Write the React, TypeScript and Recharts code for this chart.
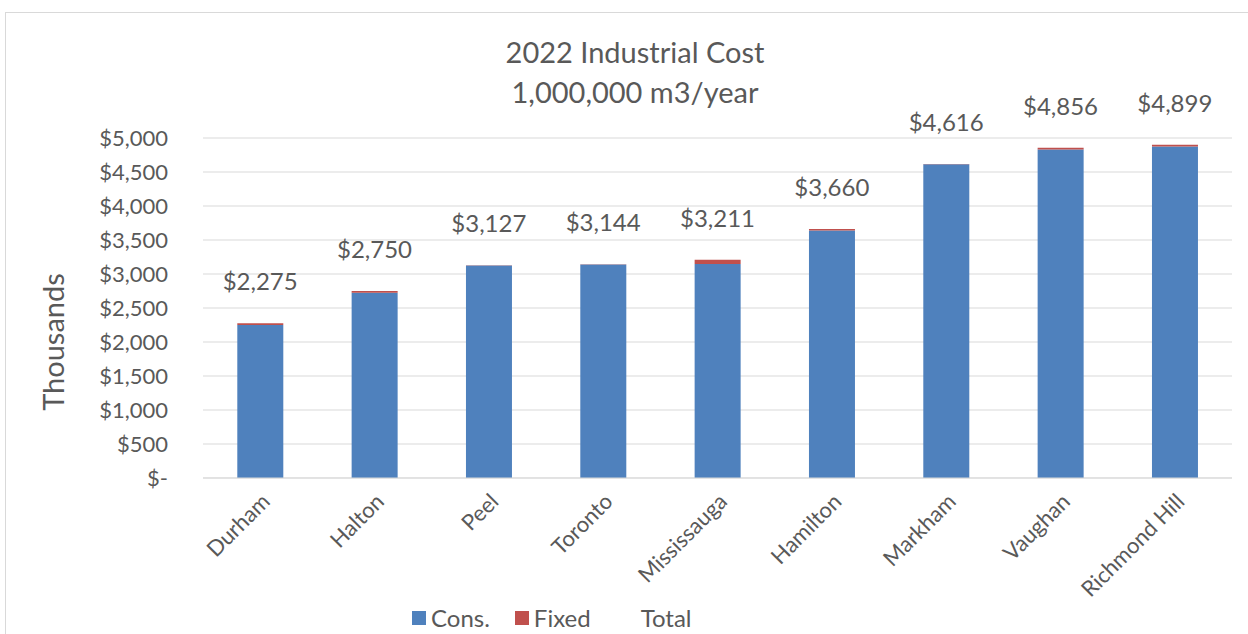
import { ComposedChart, Bar, Line, XAxis, YAxis, CartesianGrid, Legend, LabelList } from 'recharts';

const cities = ['Durham', 'Halton', 'Peel', 'Toronto', 'Mississauga', 'Hamilton', 'Markham', 'Vaughan', 'Richmond Hill'];
const totals = [2275, 2750, 3127, 3144, 3211, 3660, 4616, 4856, 4899];
const fixedCost = [25, 25, 3, 3, 65, 20, 3, 25, 25];
const yTicks = [0, 500, 1000, 1500, 2000, 2500, 3000, 3500, 4000, 4500, 5000];

const data = cities.map((name, i) => ({
  name,
  cons: totals[i] - fixedCost[i],
  fixed: fixedCost[i],
  total: totals[i],
}));

const FONT = 'Lato, "Noto Sans", sans-serif';
const TEXT = '#595959';

const money = (v: number) => (v === 0 ? '$-' : '$' + v.toLocaleString('en-US'));

function LegendBox() {
  const item = { display: 'flex', alignItems: 'center' } as const;
  const sq = (c: string) => ({ width: 14, height: 14, background: c, marginRight: 5 });
  return (
    <div style={{ display: 'flex', fontFamily: FONT, fontSize: 24, color: TEXT, lineHeight: '28px' }}>
      <div style={{ ...item, marginRight: 25 }}><div style={sq('#4F81BD')} />Cons.</div>
      <div style={{ ...item, marginRight: 50 }}><div style={sq('#C0504D')} />Fixed</div>
      <div style={item}>Total</div>
    </div>
  );
}

export default function App() {
  return (
    <div style={{ position: 'absolute', left: 0, top: 0, width: 1248, height: 634, overflow: 'hidden', background: '#fff' }}>
      <div style={{ position: 'absolute', left: 5, top: 12, width: 1260, height: 640, border: '1px solid #d9d9d9' }} />
      <div style={{ position: 'absolute', left: 0, width: 1270, top: 32, textAlign: 'center', fontFamily: FONT, fontSize: 29, color: TEXT, lineHeight: '40px' }}>
        <div>2022 Industrial Cost</div>
        <div>1,000,000 m3/year</div>
      </div>
      <ComposedChart
        width={1248}
        height={634}
        data={data}
        margin={{ top: 138, right: 16, left: 0, bottom: 0 }}
        barCategoryGap="30%"
        style={{ position: 'absolute', left: 0, top: 0 }}
      >
        <CartesianGrid vertical={false} stroke="#d9d9d9" />
        <XAxis
          dataKey="name"
          interval={0}
          height={156}
          angle={-45}
          textAnchor="end"
          tickSize={0}
          tickMargin={14}
          tickLine={false}
          axisLine={{ stroke: '#d9d9d9' }}
          tick={{ fill: TEXT, fontSize: 22, fontFamily: FONT }}
        />
        <YAxis
          width={203}
          domain={[0, 5000]}
          ticks={yTicks}
          tickFormatter={money}
          axisLine={false}
          tickLine={false}
          tickSize={0}
          tickMargin={35}
          tick={{ fill: TEXT, fontSize: 22, fontFamily: FONT }}
          label={{
            content: ({ viewBox }: any) => {
              const x = viewBox.x + 52;
              const y = viewBox.y + viewBox.height / 2 + 34;
              return (
                <text x={x} y={y} transform={`rotate(-90, ${x}, ${y})`} textAnchor="middle" dominantBaseline="central" fill={TEXT} fontSize={29} fontFamily={FONT}>
                  Thousands
                </text>
              );
            },
          }}
        />
        <Legend
          layout="horizontal"
          verticalAlign="middle"
          align="center"
          content={() => <LegendBox />}
          wrapperStyle={{ position: 'absolute', left: 412, top: 604, width: 400, height: 28 }}
        />
        <Bar dataKey="cons" stackId="a" fill="#4F81BD" isAnimationActive={false} />
        <Bar dataKey="fixed" stackId="a" fill="#C0504D" isAnimationActive={false} />
        <Line dataKey="total" stroke="none" dot={false} activeDot={false} legendType="none" isAnimationActive={false}>
          <LabelList dataKey="total" position="top" offset={33} formatter={(v: any) => money(Number(v))} fill={TEXT} fontSize={24} fontFamily={FONT} />
        </Line>
      </ComposedChart>
    </div>
  );
}
